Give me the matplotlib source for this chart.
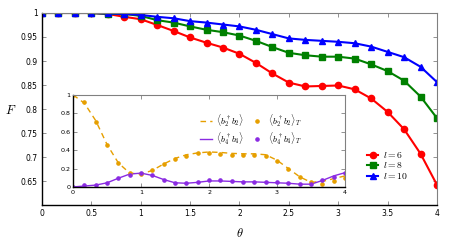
import numpy as np
import matplotlib
matplotlib.use('Agg')
import matplotlib.pyplot as plt

plt.rcParams['mathtext.fontset'] = 'cm'
plt.rcParams['font.family'] = 'DejaVu Sans'

# theta grid: 25 points from 0 to 4
theta = np.linspace(0, 4, 25)

F_l6 = [1.0, 1.0, 1.0, 1.0, 0.998, 0.992, 0.987, 0.975, 0.9625, 0.949, 0.938, 0.928,
        0.915, 0.896, 0.874, 0.855, 0.847, 0.848, 0.849, 0.841, 0.822, 0.794, 0.758, 0.707, 0.642]
F_l8 = [1.0, 1.0, 1.0, 1.0, 0.998, 0.998, 0.994, 0.985, 0.980, 0.972, 0.965, 0.960,
        0.953, 0.942, 0.929, 0.917, 0.912, 0.909, 0.909, 0.905, 0.893, 0.879, 0.859, 0.826, 0.781]
F_l10 = [1.0, 1.0, 1.0, 1.0, 0.999, 0.998, 0.996, 0.992, 0.989, 0.983, 0.980, 0.976,
         0.972, 0.965, 0.956, 0.947, 0.944, 0.942, 0.940, 0.937, 0.930, 0.919, 0.908, 0.888, 0.856]

# inset: occupations
b2_exact = [1.0, 0.91, 0.72, 0.46, 0.26, 0.15, 0.14, 0.18, 0.25, 0.31, 0.35, 0.37,
            0.38, 0.375, 0.365, 0.36, 0.36, 0.35, 0.29, 0.20, 0.11, 0.05, 0.06, 0.09, 0.12]
b2_T = [1.0, 0.92, 0.71, 0.455, 0.265, 0.153, 0.145, 0.18, 0.25, 0.30, 0.34, 0.367,
        0.37, 0.353, 0.342, 0.342, 0.342, 0.335, 0.28, 0.20, 0.11, 0.055, 0.033, 0.062, 0.10]
b4_exact = [0.0, 0.01, 0.02, 0.045, 0.095, 0.14, 0.15, 0.125, 0.08, 0.045, 0.04, 0.05,
            0.065, 0.065, 0.06, 0.055, 0.055, 0.05, 0.045, 0.04, 0.03, 0.03, 0.07, 0.12, 0.155]
b4_T = [0.0, 0.018, 0.022, 0.044, 0.095, 0.135, 0.153, 0.127, 0.08, 0.044, 0.04, 0.055,
        0.073, 0.076, 0.065, 0.058, 0.055, 0.055, 0.051, 0.04, 0.03, 0.036, 0.073, 0.11, 0.153]

orange = '#e69f00'
purple = '#8a2be2'
gray = '#808080'

fig = plt.figure(figsize=(4.54, 2.45), dpi=100)
ax = fig.add_axes([0.0925, 0.163, 0.870, 0.784])

ax.plot(theta, F_l6, '-o', color='#ff0000', lw=1.5, ms=4.5, label=r'$l=6$')
ax.plot(theta, F_l8, '-s', color='#008000', lw=1.5, ms=4.2, label=r'$l=8$')
ax.plot(theta, F_l10, '-^', color='#0000ff', lw=1.5, ms=4.5, label=r'$l=10$')

ax.set_xlim(0, 4)
ax.set_ylim(0.6, 1.0)
ax.set_xticks(np.arange(0, 4.01, 0.5))
ax.set_xticklabels(['0', '0.5', '1', '1.5', '2', '2.5', '3', '3.5', '4'])
ax.set_yticks([0.65, 0.7, 0.75, 0.8, 0.85, 0.9, 0.95, 1.0])
ax.set_yticklabels(['0.65', '0.7', '0.75', '0.8', '0.85', '0.9', '0.95', '1'])
ax.tick_params(direction='in', length=3, width=0.6, color=gray, labelsize=5.5,
               top=True, right=True, pad=3)
for s in ['top', 'right']:
    ax.spines[s].set_color(gray)
    ax.spines[s].set_linewidth(0.8)
for s in ['left', 'bottom']:
    ax.spines[s].set_color('black')
    ax.spines[s].set_linewidth(1.0)
ax.set_xlabel(r'$\theta$', fontsize=9, labelpad=6)
ax.set_ylabel(r'$F$', fontsize=9, rotation=0, va='center')
ax.yaxis.set_label_coords(-0.08, 0.49)

ax.legend(loc='lower right', bbox_to_anchor=(0.95, 0.08), frameon=False, fontsize=7,
          handlelength=1.2, handletextpad=0.5, labelspacing=0.05)

# inset
axi = fig.add_axes([0.161, 0.237, 0.599, 0.3755])
axi.plot(theta, b2_exact, '--', color=orange, lw=1.0, dashes=(4, 3), label=r'$\langle b_2^\dagger b_2\rangle$')
axi.plot(theta, b4_exact, '-', color=purple, lw=1.0, label=r'$\langle b_4^\dagger b_4\rangle$')
axi.plot(theta, b2_T, 'o', color=orange, ms=2.3, label=r'$\langle b_2^\dagger b_2\rangle_T$')
axi.plot(theta, b4_T, 'o', color=purple, ms=2.3, label=r'$\langle b_4^\dagger b_4\rangle_T$')
axi.set_xlim(0, 4)
axi.set_ylim(0, 1)
axi.set_xticks([0, 1, 2, 3, 4])
axi.set_yticks([0, 0.2, 0.4, 0.6, 0.8, 1.0])
axi.set_yticklabels(['0', '0.2', '0.4', '0.6', '0.8', '1'])
axi.tick_params(direction='in', length=3, width=0.6, color=gray, labelsize=4.6,
                top=True, right=True, pad=2)
for s in ['top', 'right']:
    axi.spines[s].set_color(gray)
    axi.spines[s].set_linewidth(0.8)
for s in ['left', 'bottom']:
    axi.spines[s].set_color('black')
    axi.spines[s].set_linewidth(1.0)
axi.legend(loc='upper right', bbox_to_anchor=(0.87, 0.90), ncol=2, frameon=False,
           fontsize=6.5, handlelength=1.3, handletextpad=0.5, columnspacing=0.8,
           labelspacing=0.2)

fig.savefig('out.png', dpi=100)
